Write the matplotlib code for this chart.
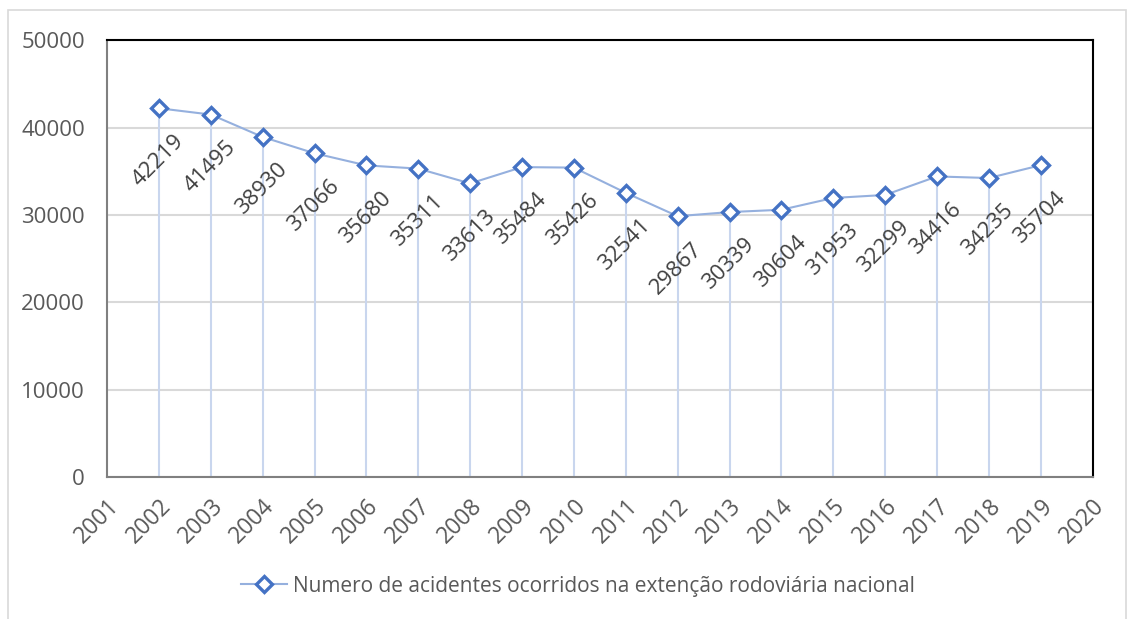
import matplotlib.pyplot as plt
from matplotlib.patches import Rectangle

plt.rcParams['font.family'] = ['Open Sans', 'DejaVu Sans']

# Dados
anos = [2002, 2003, 2004, 2005, 2006, 2007, 2008, 2009, 2010,
        2011, 2012, 2013, 2014, 2015, 2016, 2017, 2018, 2019]
acidentes = [42219, 41495, 38930, 37066, 35680, 35311, 33613, 35484, 35426,
             32541, 29867, 30339, 30604, 31953, 32299, 34416, 34235, 35704]
ticks_x = list(range(2001, 2021))
ticks_y = [0, 10000, 20000, 30000, 40000, 50000]
legenda = "Numero de acidentes ocorridos na extenção rodoviária nacional"

fig = plt.figure(figsize=(11.29, 6.19), dpi=100)
ax = fig.add_axes([0.0948, 0.229, 0.873, 0.706])

# moldura externa clara
fig.patches.append(Rectangle((0.007, -0.01), 0.99, 0.994, transform=fig.transFigure,
                             fill=False, edgecolor='#d9d9d9', linewidth=1.2))

# linhas verticais até o eixo
ax.vlines(anos, 0, acidentes, color='#c9d6ee', linewidth=1.5, zorder=1)

ax.plot(anos, acidentes, color='#95b0de', linewidth=1.5, marker='D',
        markersize=8, markerfacecolor='white', markeredgecolor='#4472c4',
        markeredgewidth=2.4, label=legenda, zorder=3)

for x, y in zip(anos, acidentes):
    ax.annotate(str(y), (x, y), xytext=(-1, -52), textcoords='offset pixels',
                ha='center', va='center', rotation=45, fontsize=16, color='#404040')

ax.set_xlim(2001, 2020)
ax.set_ylim(0, 50000)
ax.set_xticks(ticks_x)
ax.set_xticklabels([str(t) for t in ticks_x], rotation=45, ha='right',
                   rotation_mode='anchor', fontsize=16.5, color='#595959')
ax.set_yticks(ticks_y)
ax.set_yticklabels([str(t) for t in ticks_y], fontsize=16, color='#595959')
ax.tick_params(axis='both', length=0)
ax.tick_params(axis='y', pad=16)
ax.tick_params(axis='x', pad=12)
ax.grid(axis='y', color='#d9d9d9', linewidth=1.5)
ax.set_axisbelow(True)

for s in ['left', 'bottom']:
    ax.spines[s].set_color('#808080')
    ax.spines[s].set_linewidth(1.5)
for s in ['top', 'right']:
    ax.spines[s].set_color('black')
    ax.spines[s].set_linewidth(1.5)

fig.legend(loc='center', bbox_to_anchor=(0.512, 0.053), frameon=False,
           fontsize=15, labelcolor='#595959', handlelength=2.2, handletextpad=0.3)

plt.savefig('out.png', dpi=100)
